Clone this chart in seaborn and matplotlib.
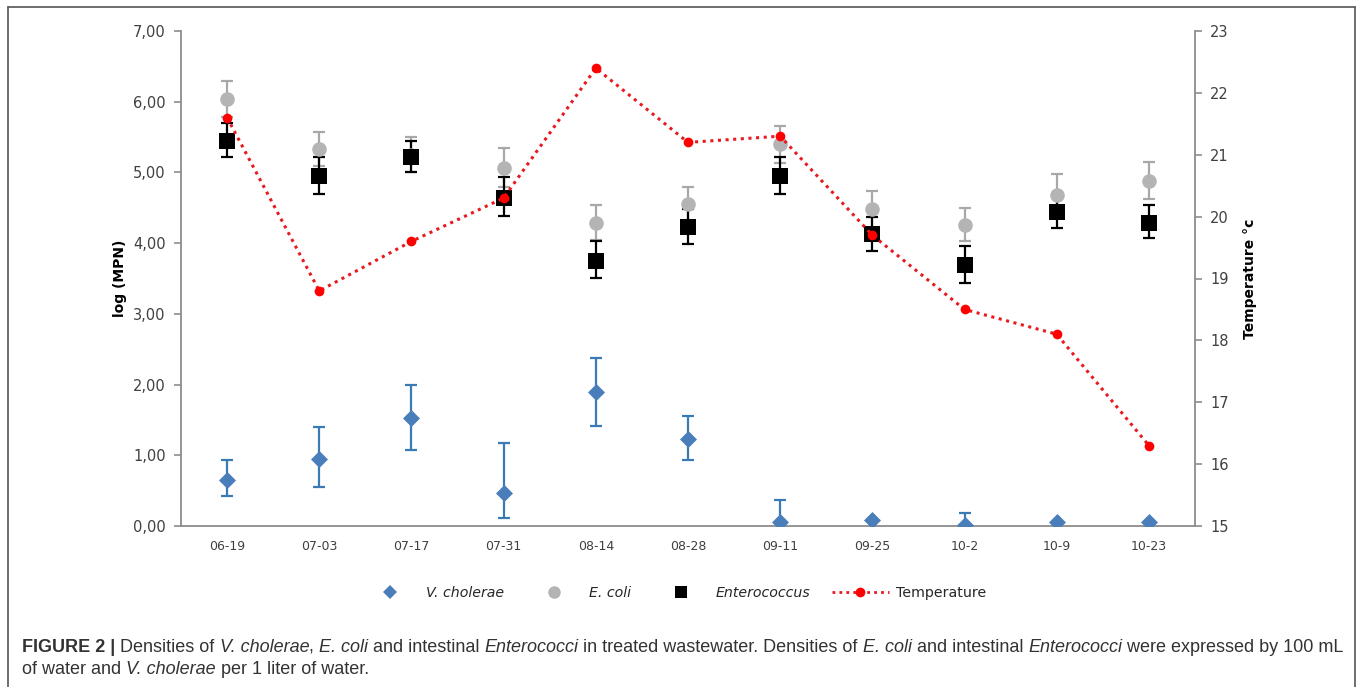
import numpy as np
import matplotlib
matplotlib.use("Agg")
import matplotlib.pyplot as plt
import seaborn as sns
from matplotlib.lines import Line2D

# sampling dates
dates = ["06-19", "07-03", "07-17", "07-31", "08-14", "08-28",
         "09-11", "09-25", "10-2", "10-9", "10-23"]

# V. cholerae, log(MPN) per 1 L
vc = [0.65, 0.95, 1.53, 0.47, 1.90, 1.23, 0.06, 0.08, 0.02, 0.06, 0.06]
vc_high = [0.93, 1.40, 2.00, 1.17, 2.38, 1.56, 0.37, 0.08, 0.18, 0.06, 0.06]
vc_low = [0.42, 0.55, 1.07, 0.11, 1.41, 0.93, 0.06, 0.08, 0.02, 0.06, 0.06]

# E. coli, log(MPN) per 100 mL
ec = [6.04, 5.33, 5.25, 5.06, 4.29, 4.55, 5.40, 4.48, 4.26, 4.68, 4.88]
ec_high = [6.30, 5.57, 5.50, 5.35, 4.54, 4.80, 5.66, 4.74, 4.50, 4.98, 5.15]
ec_low = [5.78, 5.09, 5.00, 4.80, 4.04, 4.30, 5.14, 4.22, 4.03, 4.38, 4.62]

# Enterococcus, log(MPN) per 100 mL
ent = [5.45, 4.95, 5.22, 4.64, 3.75, 4.23, 4.95, 4.13, 3.69, 4.44, 4.29]
ent_high = [5.70, 5.22, 5.45, 4.94, 4.03, 4.48, 5.22, 4.37, 3.96, 4.68, 4.54]
ent_low = [5.22, 4.70, 5.00, 4.39, 3.51, 3.99, 4.70, 3.89, 3.44, 4.21, 4.07]

# water temperature (°C)
temp = [21.6, 18.8, 19.6, 20.3, 22.4, 21.2, 21.3, 19.7, 18.5, 18.1, 16.3]

# caption, split into (text, weight, style) pieces
caption1 = [("FIGURE 2 | ", "bold", "normal"), ("Densities of ", "normal", "normal"),
            ("V. cholerae", "normal", "italic"), (", ", "normal", "normal"),
            ("E. coli", "normal", "italic"), (" and intestinal ", "normal", "normal"),
            ("Enterococci", "normal", "italic"),
            (" in treated wastewater. Densities of ", "normal", "normal"),
            ("E. coli", "normal", "italic"), (" and intestinal ", "normal", "normal"),
            ("Enterococci", "normal", "italic"), (" were expressed by 100 mL", "normal", "normal")]
caption2 = [("of water and ", "normal", "normal"), ("V. cholerae", "normal", "italic"),
            (" per 1 liter of water.", "normal", "normal")]

sns.set_theme(style="white")
plt.rcParams["font.family"] = ["DejaVu Sans"]

BLUE = "#4a7ebb"
BLUE_ERR = "#3b7bb5"
GREY = "#b4b4b4"
GREY_ERR = "#a8a8a8"
AXIS = "#8c8c8c"
TXT = "#404040"
W, H = 1360, 687

x = np.arange(len(dates))

fig = plt.figure(figsize=(W / 100, H / 100), dpi=100)
ax = fig.add_axes([181 / W, 1 - 526 / H, (1195 - 181) / W, (526 - 31) / H])


def err(v, lo, hi):
    v, lo, hi = np.array(v), np.array(lo), np.array(hi)
    return np.vstack([v - lo, hi - v])


# error bars
ax.errorbar(x, vc, yerr=err(vc, vc_low, vc_high), fmt="none", ecolor=BLUE_ERR,
            elinewidth=1.6, capsize=4, capthick=1.6, zorder=2)
ax.errorbar(x, ec, yerr=err(ec, ec_low, ec_high), fmt="none", ecolor=GREY_ERR,
            elinewidth=1.6, capsize=4, capthick=1.6, zorder=2)
ax.errorbar(x, ent, yerr=err(ent, ent_low, ent_high), fmt="none", ecolor="black",
            elinewidth=1.6, capsize=4, capthick=1.6, zorder=3)

sns.scatterplot(x=x, y=vc, marker="D", s=75, color=BLUE, edgecolor=BLUE,
                linewidth=0, ax=ax, zorder=4, legend=False)
sns.scatterplot(x=x, y=ec, marker="o", s=110, color=GREY, edgecolor=GREY,
                linewidth=0, ax=ax, zorder=4, legend=False)
sns.scatterplot(x=x, y=ent, marker="s", s=140, color="black", edgecolor="black",
                linewidth=0, ax=ax, zorder=5, legend=False)

ax.set_xlim(-0.5, len(dates) - 0.5)
ax.set_ylim(0, 7)
ax.set_yticks(np.arange(0, 8, 1))
ax.set_yticklabels([f"{v:.2f}".replace(".", ",") for v in range(8)])
ax.set_xticks(x)
ax.set_xticklabels(dates)
ax.set_xticks(np.arange(-0.5, len(dates), 1), minor=True)
ax.tick_params(axis="x", which="major", length=0, pad=10, labelsize=9, labelcolor=TXT)
ax.tick_params(axis="x", which="minor", length=5, width=1.2, color=AXIS, direction="out")
ax.tick_params(axis="y", length=5, width=1.2, color=AXIS, direction="out",
               labelsize=10.5, labelcolor=TXT, pad=6, left=True)
for side in ["top", "right"]:
    ax.spines[side].set_visible(False)
for side in ["left", "bottom"]:
    ax.spines[side].set_color(AXIS)
    ax.spines[side].set_linewidth(1.3)
ax.set_ylabel("log (MPN)", fontsize=10, fontweight="bold", color="black", labelpad=4)
ax.set_xlabel("")

# temperature on secondary axis
ax2 = ax.twinx()
sns.lineplot(x=x, y=temp, ax=ax2, color="#e8191f", linestyle=(0, (1, 1.5)),
             linewidth=2.2, marker="o", markersize=7, markeredgewidth=0,
             markerfacecolor="#ff0000", zorder=6, legend=False)
ax2.set_ylim(15, 23)
ax2.set_yticks(np.arange(15, 24, 1))
ax2.tick_params(axis="y", length=5, width=1.2, color=AXIS, direction="out",
                labelsize=10.5, labelcolor=TXT, pad=6, right=True)
for side in ["top", "left", "bottom"]:
    ax2.spines[side].set_visible(False)
ax2.spines["right"].set_color(AXIS)
ax2.spines["right"].set_linewidth(1.3)
ax2.set_ylabel("Temperature °c", fontsize=10, fontweight="bold", color="black", labelpad=10)

# legend
handles = [
    Line2D([], [], linestyle="none", marker="D", markersize=7, color=BLUE, markeredgewidth=0),
    Line2D([], [], linestyle="none", marker="o", markersize=9, color=GREY, markeredgewidth=0),
    Line2D([], [], linestyle="none", marker="s", markersize=9, color="black", markeredgewidth=0),
    Line2D([], [], linestyle=(0, (1, 1.5)), linewidth=2, color="#e8191f", marker="o",
           markersize=7, markerfacecolor="#ff0000", markeredgewidth=0),
]
labels = ["V. cholerae", "E. coli", "Enterococcus", "Temperature"]
leg = fig.legend(handles, labels, loc="center", bbox_to_anchor=(674 / W, 1 - 593 / H),
                 ncol=4, frameon=False, fontsize=10.2, handlelength=4, columnspacing=1.5,
                 handletextpad=0.5)
for t in leg.get_texts()[:3]:
    t.set_style("italic")
for t in leg.get_texts():
    t.set_color("#262626")

# caption, laid out piece by piece so that italics and bold can mix
fig.canvas.draw()
renderer = fig.canvas.get_renderer()


def draw_caption(pieces, y, size):
    x0 = 22
    made = []
    for text, weight, style in pieces:
        t = fig.text(x0 / W, y, text, fontsize=size, fontweight=weight, fontstyle=style,
                     family="Liberation Sans", color="#333333", va="center", ha="left")
        x0 += t.get_window_extent(renderer).width
        made.append(t)
    return x0, made


end, tmp = draw_caption(caption1, 1 - 647 / H, 11)
for t in tmp:
    t.remove()
size = 11 * (1341 - 22) / (end - 22)
draw_caption(caption1, 1 - 647 / H, size)
draw_caption(caption2, 1 - 670 / H, size)

# frame around the figure panel
fx0, fx1, fy1 = 8 / W, 1355 / W, 1 - 7 / H
for xs, ys in [([fx0, fx0], [0, fy1]), ([fx0, fx1], [fy1, fy1]), ([fx1, fx1], [fy1, 0])]:
    fig.add_artist(Line2D(xs, ys, transform=fig.transFigure, color="#555555", linewidth=1.2))

fig.savefig("out.png", dpi=100)
